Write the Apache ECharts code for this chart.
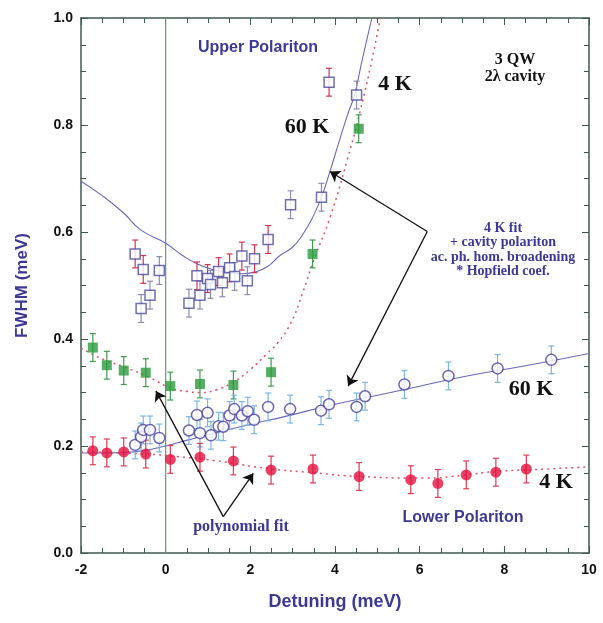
<!DOCTYPE html>
<html lang="en">
<head>
<meta charset="UTF-8">
<title>FWHM vs detuning</title>
<script src="https://cdn.jsdelivr.net/npm/echarts@6/dist/echarts.min.js"></script>
<style>html,body{margin:0;padding:0;background:#fff;}</style>
</head>
<body>
<div id="main" style="width:603px;height:623px;"></div>
<script type="text/javascript">
// ---- data: [detuning (meV), FWHM (meV)] ----
var up60Red = [[-0.72,0.559],[-0.53,0.530],[0.74,0.518],[0.99,0.513],[1.25,0.526],[1.51,0.533],[1.80,0.555],[2.10,0.550],[2.42,0.586],[3.86,0.880]];
var up60Grey = [[-0.15,0.528],[-0.37,0.482],[-0.58,0.457],[0.55,0.467],[0.81,0.482],[1.06,0.502],[1.34,0.505],[1.63,0.517],[1.93,0.509],[2.95,0.651],[3.68,0.665],[4.51,0.856]];
var up4 = [[-1.72,0.384],[-1.39,0.351],[-0.99,0.341],[-0.47,0.337],[0.11,0.312],[0.81,0.316],[1.60,0.314],[2.49,0.338],[3.47,0.559],[4.56,0.793]];
var low60 = [[-0.72,0.202],[-0.58,0.217],[-0.53,0.230],[-0.37,0.230],[-0.15,0.215],[0.55,0.229],[0.74,0.258],[0.81,0.224],[0.99,0.262],[1.07,0.220],[1.25,0.237],[1.36,0.236],[1.51,0.257],[1.62,0.269],[1.80,0.257],[1.94,0.265],[2.09,0.249],[2.42,0.273],[2.94,0.269],[3.67,0.266],[3.86,0.278],[4.51,0.273],[4.71,0.293],[5.64,0.315],[6.68,0.331],[7.84,0.345],[9.11,0.361]];
var low4 = [[-1.72,0.191],[-1.39,0.187],[-0.99,0.189],[-0.47,0.185],[0.11,0.175],[0.81,0.179],[1.60,0.172],[2.49,0.155],[3.48,0.157],[4.57,0.143],[5.79,0.137],[6.43,0.130],[7.10,0.146],[7.80,0.151],[8.52,0.157]];
var errBar = 0.026;

// fitted curves (traced)
var fit60Up = [[-2,0.695],[-1.5,0.668],[-1,0.636],[-0.59,0.604],[0,0.579],[0.4,0.556],[0.75,0.540],[1.1,0.530],[1.46,0.525],[1.8,0.522],[2.09,0.525],[2.4,0.535],[2.7,0.556],[3.0,0.572],[3.26,0.598],[3.5,0.632],[3.68,0.665],[3.88,0.713],[4.1,0.77],[4.3,0.82],[4.46,0.856],[4.64,0.921],[4.87,1.0]];
var fit4Up = [[-2,0.383],[-1.45,0.361],[-0.98,0.348],[-0.35,0.327],[0.12,0.308],[0.5,0.302],[0.83,0.300],[1.2,0.305],[1.61,0.320],[2.0,0.343],[2.4,0.373],[2.64,0.392],[2.95,0.429],[3.23,0.485],[3.5,0.548],[3.89,0.629],[4.29,0.735],[4.6,0.828],[4.87,0.921],[5.07,1.0]];
var fit60Low = [[-2,0.187],[-1.4,0.187],[-0.74,0.189],[-0.11,0.198],[0.51,0.211],[1.2,0.225],[2.24,0.245],[2.71,0.253],[4,0.278],[5.62,0.305],[7,0.329],[8.5,0.350],[10,0.373]];
var fit4Low = [[-2,0.189],[-0.47,0.185],[0.3,0.180],[1.14,0.173],[2.4,0.158],[3.5,0.150],[4.6,0.143],[6.17,0.140],[7.0,0.145],[7.74,0.152],[9,0.157],[10,0.161]];

// arrows (data coords): from label point to curve
var arrowsHop = [[[6.18,0.601],[3.88,0.713]],[[6.18,0.601],[4.31,0.312]]];
var arrowsPoly = [[[1.36,0.068],[-0.23,0.303]],[[1.36,0.068],[2.07,0.149]]];

var purple = '#3d3893';
var axisCol = '#3e5a4c';

function withErr(arr){ return arr.map(function(p){ return [p[0], p[1], errBar]; }); }

function errSeries(arr, color){
    return {
        type: 'custom', z: 2, silent: true,
        data: withErr(arr),
        renderItem: function(params, api){
            var x = api.value(0), y = api.value(1), e = api.value(2);
            var lo = api.coord([x, y - e]), hi = api.coord([x, y + e]);
            var c = 3;
            var st = {stroke: color, lineWidth: 1.2};
            return {type: 'group', children: [
                {type: 'line', shape: {x1: lo[0], y1: lo[1], x2: hi[0], y2: hi[1]}, style: st},
                {type: 'line', shape: {x1: lo[0]-c, y1: lo[1], x2: lo[0]+c, y2: lo[1]}, style: st},
                {type: 'line', shape: {x1: hi[0]-c, y1: hi[1], x2: hi[0]+c, y2: hi[1]}, style: st}
            ]};
        }
    };
}

function arrowSeries(arr){
    return {
        type: 'lines', coordinateSystem: 'cartesian2d', z: 3, silent: true,
        symbol: ['none', 'arrow'], symbolSize: 10,
        lineStyle: {color: '#111', width: 1.3, opacity: 1},
        data: arr.map(function(a){ return {coords: a}; })
    };
}

function label(x, y, txt, font, fill, lh){
    return {type: 'text', x: x, y: y, z: 10,
        style: {text: txt, font: font, fill: fill, align: 'center', verticalAlign: 'middle', lineHeight: lh}};
}

var myChart = echarts.init(document.getElementById('main'));
var tickLbl = {fontFamily: 'Liberation Sans, Arial', fontWeight: 'bold', fontSize: 14, color: '#111'};
var sans = 'bold 16px Liberation Sans, Arial';
var serifBig = 'bold 22px Liberation Serif, Times New Roman';

myChart.setOption({
    animation: false,
    grid: {left: 81, right: 14, top: 18, bottom: 70},
    xAxis: [{
        type: 'value', min: -2, max: 10, interval: 2,
        name: 'Detuning (meV)', nameLocation: 'middle', nameGap: 40,
        nameTextStyle: {fontFamily: 'Liberation Sans, Arial', fontWeight: 'bold', fontSize: 18, color: purple},
        axisLine: {show: true, onZero: false, lineStyle: {color: axisCol, width: 1.5}},
        axisTick: {show: true, inside: true, length: 7, lineStyle: {color: axisCol}},
        minorTick: {show: true, splitNumber: 4, length: 5, lineStyle: {color: axisCol}},
        axisLabel: Object.assign({margin: 10}, tickLbl),
        splitLine: {show: false}
    }, {
        type: 'value', position: 'top', min: -2, max: 10, interval: 2,
        axisLine: {show: true, onZero: false, lineStyle: {color: axisCol, width: 1.5}},
        axisTick: {show: true, inside: true, length: 7, lineStyle: {color: axisCol}},
        minorTick: {show: true, splitNumber: 4, length: 5, lineStyle: {color: axisCol}},
        axisLabel: {show: false}, splitLine: {show: false}
    }],
    yAxis: [{
        type: 'value', min: 0, max: 1, interval: 0.2,
        name: 'FWHM (meV)', nameLocation: 'middle', nameGap: 50,
        nameTextStyle: {fontFamily: 'Liberation Sans, Arial', fontWeight: 'bold', fontSize: 17, color: purple},
        axisLine: {show: true, onZero: false, lineStyle: {color: axisCol, width: 1.5}},
        axisTick: {show: true, inside: true, length: 7, lineStyle: {color: axisCol}},
        minorTick: {show: true, splitNumber: 4, length: 5, lineStyle: {color: axisCol}},
        axisLabel: Object.assign({margin: 8, formatter: function(v){ return v.toFixed(1); }}, tickLbl),
        splitLine: {show: false}
    }, {
        type: 'value', position: 'right', min: 0, max: 1, interval: 0.2,
        axisLine: {show: true, onZero: false, lineStyle: {color: axisCol, width: 1.5}},
        axisTick: {show: true, inside: true, length: 7, lineStyle: {color: axisCol}},
        minorTick: {show: true, splitNumber: 4, length: 5, lineStyle: {color: axisCol}},
        axisLabel: {show: false}, splitLine: {show: false}
    }],
    series: [
        // zero-detuning marker
        {type: 'line', data: [[0, 0], [0, 1]], symbol: 'none', z: 1, silent: true,
         lineStyle: {color: '#5aa26e', width: 1.2}},
        // fits
        {type: 'line', data: fit60Up, symbol: 'none', smooth: true, z: 1,
         lineStyle: {color: '#6a68b8', width: 1.1}},
        {type: 'line', data: fit4Up, symbol: 'none', smooth: true, z: 1,
         lineStyle: {color: '#e0506a', width: 1.5, type: [2, 4]}},
        {type: 'line', data: fit60Low, symbol: 'none', smooth: true, z: 1,
         lineStyle: {color: '#6a68b8', width: 1.1}},
        {type: 'line', data: fit4Low, symbol: 'none', smooth: true, z: 1,
         lineStyle: {color: '#e0506a', width: 1.5, type: [2, 4]}},
        // error bars
        errSeries(up60Red, '#d4344f'),
        errSeries(up60Grey, '#8c8cae'),
        errSeries(up4, '#3f9a50'),
        errSeries(low60, '#79b6e2'),
        errSeries(low4, '#dd3a56'),
        // markers
        {type: 'scatter', data: up60Red.concat(up60Grey), symbol: 'rect', symbolSize: 10, z: 4,
         itemStyle: {color: '#fff', borderColor: '#4a4a9c', borderWidth: 1.5}},
        {type: 'scatter', data: up4, symbol: 'rect', symbolSize: 10, z: 4,
         itemStyle: {color: '#2a9a3c'}},
        {type: 'scatter', data: low60, symbol: 'circle', symbolSize: 11, z: 4,
         itemStyle: {color: '#fff', borderColor: '#4a3f9e', borderWidth: 1.5}},
        {type: 'scatter', data: low4, symbol: 'circle', symbolSize: 11, z: 4,
         itemStyle: {color: '#e2123e'}},
        arrowSeries(arrowsHop),
        arrowSeries(arrowsPoly)
    ],
    graphic: [
        label(258, 48, 'Upper Polariton', sans, purple),
        label(463, 518, 'Lower Polariton', sans, purple),
        label(515, 68, '3 QW\n2λ cavity', 'bold 16px Liberation Serif, Times New Roman', '#111', 17),
        label(395, 84, '4 K', serifBig, '#111'),
        label(307, 127, '60 K', serifBig, '#111'),
        label(531, 389, '60 K', serifBig, '#111'),
        label(556, 482, '4 K', serifBig, '#111'),
        label(503, 250, '4 K fit\n+ cavity polariton\nac. ph. hom. broadening\n* Hopfield coef.', 'bold 14px Liberation Serif, Times New Roman', purple, 14.5),
        label(241, 527, 'polynomial fit', 'bold 16px Liberation Serif, Times New Roman', purple)
    ]
});
</script>
</body>
</html>
